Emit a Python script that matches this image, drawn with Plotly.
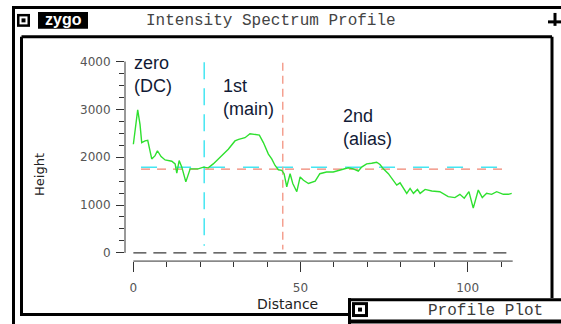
import plotly.graph_objects as go

W, H = 561, 324

# ---- data ----
dist = [0, 1.3, 2, 2.5, 3.5, 4.3, 5.5, 6.5, 7.2, 8.3,
        9.5, 11.5, 12.5, 13, 13.7, 14.5, 15.7, 17, 18, 19.4,
        21, 22.4, 23.9, 26.4, 28.4, 30.4, 31.5, 33.4, 34.9, 37.7,
        38.9, 40.4, 41.4, 42.4, 43.4, 44.4, 45.1, 45.9, 46.9, 47.7,
        48.9, 49.9, 50.9, 52.4, 54.4, 55.8, 57.8, 59.8, 61.8, 64.3,
        65.8, 67.3, 68.3, 69.8, 71.3, 72.8, 73.8, 74.8, 76.3, 77.8,
        78.8, 79.8, 80.8, 81.8, 82.8, 83.8, 85, 85.8, 87.3, 89.3,
        91.7, 94.2, 96.2, 97.7, 99, 100.4, 101.7, 103.2, 104.4, 105.7,
        107.2, 108.7, 110.7, 112.2, 113.2]
height = [2271, 2990, 2681, 2306, 2340, 2353, 1963, 2033, 2135, 2012,
          1943, 1915, 1860, 1669, 1930, 1792, 1484, 1757, 1757, 1757,
          1792, 1778, 1860, 2033, 2168, 2340, 2373, 2408, 2490, 2463,
          2306, 2065, 1963, 1827, 1737, 1724, 1655, 1382, 1655, 1450,
          1279, 1587, 1519, 1450, 1499, 1655, 1690, 1690, 1724, 1778,
          1757, 1710, 1792, 1860, 1874, 1895, 1847, 1757, 1655, 1519,
          1416, 1464, 1347, 1244, 1347, 1244, 1327, 1244, 1327, 1293,
          1279, 1176, 1156, 1224, 1142, 1279, 936, 1313, 1156, 1244,
          1224, 1279, 1224, 1224, 1244]

cyan_level_x = [2.3, 109.8]
cyan_level_y = [1790, 1790]
red_level_x = [2.3, 111.3]
red_level_y = [1750, 1750]
cyan_split_x = [21.2, 21.2]
cyan_split_y = [3985, 150]
red_split_x = [44.7, 44.7]
red_split_y = [3975, 70]
zero_x = [0, 113.5]
zero_y = [0, 0]

y_ticks = [0, 1000, 2000, 3000, 4000]
x_ticks = [0, 50, 100]

region_labels = ["zero<br>(DC)", "1st<br>(main)", "2nd<br>(alias)"]

# ---- layout geometry ----
XR = [-2.5, 113.5]
YR = [-172, 4100]
XD = [125 / W, 512.7 / W]
YD = [1 - 260.7 / H, 1 - 55.1 / H]


def px(x):
    return x / W


def py(y):
    return 1 - y / H


def dx(v):
    return XD[0] + (v - XR[0]) / (XR[1] - XR[0]) * (XD[1] - XD[0])


def dy(v):
    return YD[0] + (v - YR[0]) / (YR[1] - YR[0]) * (YD[1] - YD[0])


fig = go.Figure()
fig.add_trace(go.Scatter(x=zero_x, y=zero_y, mode="lines",
                         line=dict(color="#3a3a3a", width=1.3, dash="13px,7px"), hoverinfo="skip"))
fig.add_trace(go.Scatter(x=cyan_level_x, y=cyan_level_y, mode="lines",
                         line=dict(color="#44e6f2", width=1.5, dash="16px,18px")))
fig.add_trace(go.Scatter(x=red_level_x, y=red_level_y, mode="lines",
                         line=dict(color="#f08472", width=1.3, dash="9px,7px")))
fig.add_trace(go.Scatter(x=cyan_split_x, y=cyan_split_y, mode="lines",
                         line=dict(color="#44e6f2", width=1.5, dash="17px,9px")))
fig.add_trace(go.Scatter(x=red_split_x, y=red_split_y, mode="lines",
                         line=dict(color="#f4a090", width=1.5, dash="8px,5px")))
fig.add_trace(go.Scatter(x=dist, y=height, mode="lines",
                         line=dict(color="#2fe02f", width=1.4)))

axis_font = dict(family="DejaVu Sans", size=12, color="#555")

fig.update_xaxes(range=XR, domain=XD, showgrid=False, zeroline=False, showline=False,
                 tickmode="array", tickvals=x_ticks, ticks="outside", ticklen=10,
                 tickcolor="#333", tickwidth=1, tickfont=axis_font, ticklabelstandoff=6,
                 minor=dict(dtick=10, tick0=0, ticks="outside", ticklen=5,
                            tickcolor="#333", tickwidth=1, showgrid=False))
fig.update_yaxes(range=YR, domain=YD, showgrid=False, zeroline=False, showline=False,
                 tickmode="array", tickvals=y_ticks, ticks="outside", ticklen=8,
                 tickcolor="#333", tickwidth=1, tickfont=axis_font, ticklabelstandoff=3,
                 minor=dict(dtick=250, tick0=0, ticks="outside", ticklen=5,
                            tickcolor="#333", tickwidth=1, showgrid=False))

shapes = []


def line(x0, y0, x1, y1, w=1, c="black"):
    shapes.append(dict(type="line", xref="paper", yref="paper",
                       x0=x0, y0=y0, x1=x1, y1=y1,
                       line=dict(color=c, width=w), layer="above"))


def rect(x0, y0, x1, y1, fill="black", lw=0, lc="black"):
    shapes.append(dict(type="rect", xref="paper", yref="paper",
                       x0=px(x0), y0=py(y0), x1=px(x1), y1=py(y1),
                       fillcolor=fill, line=dict(color=lc, width=lw), layer="above"))


# axis lines (detached, like the original)
line(dx(-2.5), dy(0), dx(-2.5), dy(4000), 1, "#333")
line(dx(0), dy(-172), dx(113.5), dy(-172), 1, "#333")

# outer window
line(px(12), py(5.5), px(561), py(5.5), 3)
line(px(13.5), py(5), px(13.5), py(324), 3)
# title bar icons
rect(17, 12, 30, 25)
rect(19.5, 14.5, 27.5, 22.5, fill="white")
rect(21.5, 16.5, 25.5, 20.5, fill="black")
rect(38, 10, 88, 27)
line(px(555), py(11), px(555), py(24), 3)
line(px(548), py(20), px(561), py(20), 3)
# inner frame
line(px(21.5), py(35), px(552), py(35), 3)
line(px(21.5), py(35), px(21.5), py(315), 3)
line(px(552), py(35), px(552), py(298), 3)
line(px(20), py(314.5), px(349), py(314.5), 3)
# Profile Plot window
rect(348, 298, 562, 325, fill="white")
line(px(348), py(299.5), px(561), py(299.5), 3)
line(px(349.5), py(298), px(349.5), py(324), 3)
line(px(348), py(321.5), px(561), py(321.5), 4)
rect(352, 302, 368, 317)
rect(355, 305, 365, 314, fill="white")
rect(358, 307.5, 362, 311.5, fill="black")

annotations = []


def text(x, y, s, size, color, family, xanchor="center", angle=0):
    annotations.append(dict(x=px(x), y=py(y), xref="paper", yref="paper", text=s,
                            showarrow=False, xanchor=xanchor, yanchor="middle",
                            textangle=angle, align="left",
                            font=dict(size=size, color=color, family=family)))


text(271, 19, "Intensity Spectrum Profile", 16, "#444", "Liberation Mono")
text(63, 18, "<b>zygo</b>", 16, "white", "Liberation Sans")
text(426, 311, "Profile Plot", 16, "#3a3a3a", "Liberation Mono", xanchor="left")
text(287, 304, "Distance", 14, "#222", "DejaVu Sans")
text(40, 174, "Height", 13, "#222", "DejaVu Sans", angle=-90)
text(132, 73, region_labels[0], 18, "#111a35", "Liberation Sans", xanchor="left")
text(221, 96, region_labels[1], 18, "#111a35", "Liberation Sans", xanchor="left")
text(341, 126, region_labels[2], 18, "#111a35", "Liberation Sans", xanchor="left")

fig.update_layout(width=W, height=H, margin=dict(l=0, r=0, t=0, b=0),
                  paper_bgcolor="white", plot_bgcolor="white", showlegend=False,
                  shapes=shapes, annotations=annotations)

fig.write_html("out.html", config={"displayModeBar": False},
               post_script="document.body.style.margin='0px';document.body.style.overflow='hidden';")
